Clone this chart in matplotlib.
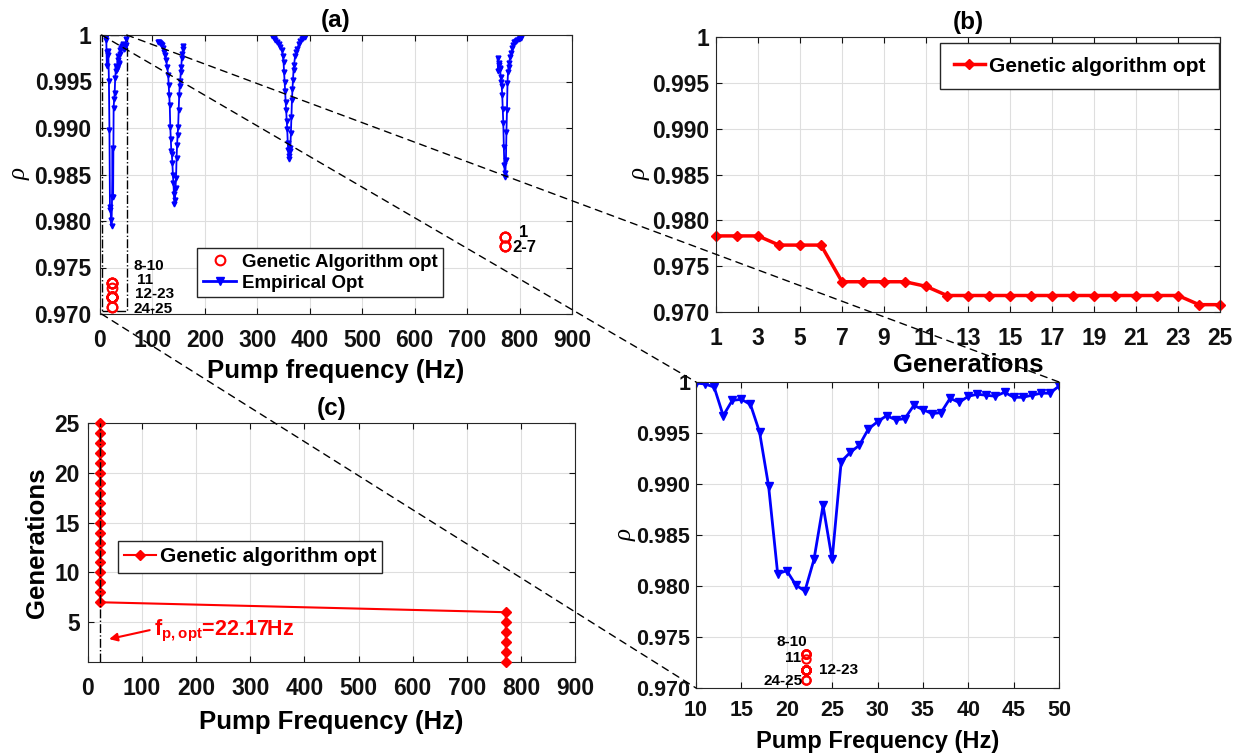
import matplotlib
matplotlib.use('Agg')
import matplotlib.pyplot as plt
from matplotlib.patches import Rectangle, ConnectionPatch
from matplotlib.lines import Line2D

plt.rcParams['font.family'] = ['Liberation Sans', 'DejaVu Sans']
plt.rcParams['font.weight'] = 'bold'
plt.rcParams['axes.labelweight'] = 'bold'
plt.rcParams['axes.titleweight'] = 'bold'
plt.rcParams['mathtext.fontset'] = 'custom'
plt.rcParams['mathtext.rm'] = 'Liberation Sans:bold'
plt.rcParams['mathtext.bf'] = 'Liberation Sans:bold'

# -------------------------------
# Data
# -------------------------------
# empirical sweep, first dip (also shown in the zoom panel)
freq_1 = [10, 11, 12, 13, 14, 15, 16, 17, 18, 19, 20, 21, 22, 23, 24, 25, 26, 27, 28, 29,
          30, 31, 32, 33, 34, 35, 36, 37, 38, 39, 40, 41, 42, 43, 44, 45, 46, 47, 48, 49, 50]
rho_1 = [0.9999, 0.9998, 0.9995, 0.9967, 0.9982, 0.9983, 0.9978, 0.9951, 0.9898, 0.9812,
         0.9815, 0.9801, 0.9795, 0.9826, 0.9879, 0.9826, 0.9922, 0.9931, 0.9938, 0.9954,
         0.9961, 0.9967, 0.9963, 0.9964, 0.9977, 0.9973, 0.9969, 0.9970, 0.9984, 0.9980,
         0.9986, 0.9988, 0.9987, 0.9986, 0.9990, 0.9985, 0.9985, 0.9987, 0.9989, 0.9989,
         0.9996]

# second dip
freq_2 = [110, 112, 114, 116, 118, 120, 122, 124, 126, 128, 130, 131, 132, 133, 134, 135,
          136, 137, 138, 139, 140, 141, 142, 143, 144, 145, 146, 147, 148, 149, 150, 151,
          152, 153, 154, 155, 156, 157, 158, 159]
rho_2 = [0.9993, 0.9992, 0.9991, 0.9990, 0.9989, 0.9986, 0.9982, 0.9978, 0.9973, 0.9966,
         0.9957, 0.9946, 0.9935, 0.9925, 0.9901, 0.9888, 0.9875, 0.9872, 0.9862, 0.9850,
         0.9841, 0.9829, 0.9818, 0.9823, 0.9836, 0.9846, 0.9868, 0.9882, 0.9893, 0.9901,
         0.9919, 0.9935, 0.9945, 0.9951, 0.9960, 0.9966, 0.9975, 0.9980, 0.9985, 0.9988]

# third dip
freq_3 = [328, 331, 334, 338, 341, 344, 347, 349, 350, 351, 352, 353, 354, 355, 356, 357,
          358, 359, 360, 361, 362, 363, 364, 365, 366, 367, 368, 369, 370, 372, 374, 376,
          379, 382, 385, 388, 390]
rho_3 = [0.9999, 0.9997, 0.9995, 0.9993, 0.9990, 0.9987, 0.9984, 0.9977, 0.9971, 0.9960,
         0.9950, 0.9940, 0.9928, 0.9919, 0.9908, 0.9899, 0.9884, 0.9876, 0.9867, 0.9870,
         0.9875, 0.9879, 0.9895, 0.9912, 0.9930, 0.9942, 0.9952, 0.9962, 0.9968, 0.9977,
         0.9982, 0.9985, 0.9990, 0.9994, 0.9996, 0.9997, 0.9998]

# fourth dip
freq_4 = [758, 759, 760, 761, 762, 763, 764, 765, 766, 767, 768, 769, 770, 771, 772, 773,
          774, 775, 776, 777, 778, 779, 780, 782, 784, 786, 788, 790, 792, 794, 796, 798,
          800, 802]
rho_4 = [0.9975, 0.9961, 0.9970, 0.9968, 0.9964, 0.9963, 0.9955, 0.9950, 0.9945, 0.9935,
         0.9920, 0.9905, 0.9880, 0.9860, 0.9847, 0.9852, 0.9866, 0.9896, 0.9919, 0.9948,
         0.9960, 0.9966, 0.9970, 0.9976, 0.9981, 0.9986, 0.9989, 0.9992, 0.9993, 0.9994,
         0.9995, 0.9996, 0.9997, 0.9997]

# genetic algorithm, best individual per generation
generations = [1, 2, 3, 4, 5, 6, 7, 8, 9, 10, 11, 12, 13, 14, 15, 16, 17, 18, 19, 20,
               21, 22, 23, 24, 25]
ga_freq = [772, 772, 772, 772, 772, 772, 22.17, 22.17, 22.17, 22.17, 22.17, 22.17, 22.17,
           22.17, 22.17, 22.17, 22.17, 22.17, 22.17, 22.17, 22.17, 22.17, 22.17, 22.17, 22.17]
ga_rho = [0.9783, 0.9783, 0.9783, 0.9773, 0.9773, 0.9773, 0.9733, 0.9733, 0.9733, 0.9733,
          0.9728, 0.9718, 0.9718, 0.9718, 0.9718, 0.9718, 0.9718, 0.9718, 0.9718, 0.9718,
          0.9718, 0.9718, 0.9718, 0.9708, 0.9708]
f_opt = 22.17

rho_ticks = [0.970, 0.975, 0.980, 0.985, 0.990, 0.995, 1.0]
rho_ticklabels = ['0.970', '0.975', '0.980', '0.985', '0.990', '0.995', '1']
freq_ticks = [0, 100, 200, 300, 400, 500, 600, 700, 800, 900]
gen_ticks_b = [1, 3, 5, 7, 9, 11, 13, 15, 17, 19, 21, 23, 25]
gen_ticks_c = [5, 10, 15, 20, 25]
zoom_ticks = [10, 15, 20, 25, 30, 35, 40, 45, 50]

# -------------------------------
# Figure
# -------------------------------
W, H = 1252, 756
fig = plt.figure(figsize=(W / 100, H / 100), dpi=100)


def box(x0, y0, x1, y1):
    # pixel box (top-left origin) -> figure fraction
    return [x0 / W, 1 - y1 / H, (x1 - x0) / W, (y1 - y0) / H]


def style(ax, size=16.5, xpad=11, ypad=6):
    ax.grid(True, color='#dedede', lw=0.8)
    ax.set_axisbelow(True)
    ax.tick_params(direction='in', top=True, right=True, length=4, width=0.8,
                   labelsize=size, colors='#111111')
    ax.tick_params(axis='x', pad=xpad)
    ax.tick_params(axis='y', pad=ypad)
    for s in ax.spines.values():
        s.set_color('#262626')
        s.set_linewidth(0.8)


rho_font = dict(family='Liberation Serif', style='italic', weight='normal', fontsize=18)

ax_a = fig.add_axes(box(100, 35, 572, 314))
ax_b = fig.add_axes(box(716, 37, 1220, 312))
ax_c = fig.add_axes(box(88, 423, 575, 662))
ax_d = fig.add_axes(box(696, 382, 1059, 688))

# ---- (a) ----
style(ax_a)
for f, r in [(freq_1, rho_1), (freq_2, rho_2), (freq_3, rho_3), (freq_4, rho_4)]:
    ax_a.plot(f, r, color='b', lw=1.3, marker='v', ms=3.5)
ax_a.plot(ga_freq, ga_rho, ls='none', marker='o', ms=7, mfc='none', mec='r', mew=1.5)
ax_a.add_patch(Rectangle((3, 0.9703), 48, 0.0297, fill=False, ls='-.', lw=1, ec='k'))
ax_a.text(64, 0.9752, '8-10', fontsize=11, va='center')
ax_a.text(70, 0.9737, '11', fontsize=11, va='center')
ax_a.text(67, 0.9721, '12-23', fontsize=11, va='center')
ax_a.text(64, 0.9705, '24-25', fontsize=11, va='center')
ax_a.text(799, 0.9788, '1', fontsize=12, va='center')
ax_a.text(787, 0.9771, '2-7', fontsize=12, va='center')
ax_a.set_xlim(0, 900)
ax_a.set_ylim(0.970, 1.0)
ax_a.set_xticks(freq_ticks)
ax_a.set_yticks(rho_ticks)
ax_a.set_yticklabels(rho_ticklabels)
ax_a.set_xlabel('Pump frequency (Hz)', fontsize=18.5, labelpad=5)
ax_a.set_ylabel('ρ', labelpad=3, **rho_font)
ax_a.set_title('(a)', fontsize=17.5, pad=6)
h_ga = Line2D([], [], ls='none', marker='o', ms=7, mfc='none', mec='r', mew=1.5)
h_emp = Line2D([], [], color='b', lw=2, marker='v', ms=6)
ax_a.legend([h_ga, h_emp], ['Genetic Algorithm opt', 'Empirical Opt'],
            loc='upper left', bbox_to_anchor=(197 / W, 1 - 248 / H),
            bbox_transform=fig.transFigure, prop={'size': 13.5, 'weight': 'bold'},
            fancybox=False, framealpha=1, edgecolor='#262626', handlelength=1.8,
            borderpad=0.3, labelspacing=0.2, handletextpad=0.3, borderaxespad=0)

# ---- (b) ----
style(ax_b, ypad=5)
ax_b.plot(generations, ga_rho, color='r', lw=2.5, marker='D', ms=5,
          label='Genetic algorithm opt', clip_on=False)
ax_b.set_xlim(1, 25)
ax_b.set_ylim(0.970, 1.0)
ax_b.set_xticks(gen_ticks_b)
ax_b.set_yticks(rho_ticks)
ax_b.set_yticklabels(rho_ticklabels)
ax_b.set_xlabel('Generations', fontsize=18.5, labelpad=2)
ax_b.set_ylabel('ρ', labelpad=1, **rho_font)
ax_b.set_title('(b)', fontsize=17.5, pad=6)
ax_b.legend(loc='upper left', bbox_to_anchor=(940 / W, 1 - 43 / H),
            bbox_transform=fig.transFigure, prop={'size': 15, 'weight': 'bold'},
            fancybox=False, framealpha=1, edgecolor='#262626', handlelength=1.5,
            borderpad=0.65, handletextpad=0.2, borderaxespad=0)

# ---- (c) ----
style(ax_c)
ax_c.plot(ga_freq, generations, color='r', lw=1.5, marker='D', ms=5,
          label='Genetic algorithm opt', clip_on=False, zorder=3)
ax_c.plot([f_opt, f_opt], [1, 25], color='k', ls='-.', lw=1, zorder=4)
ax_c.annotate('', xy=(39, 3.3), xytext=(114, 4.2),
              arrowprops=dict(arrowstyle='-|>', color='r', lw=1.5, mutation_scale=12,
                              shrinkA=0, shrinkB=0))
ax_c.text(122, 3.7, r'f$_{\mathrm{p,opt}}$=22.17Hz', color='r', fontsize=15.5,
          va='baseline')
ax_c.set_xlim(0, 900)
ax_c.set_ylim(1, 25)
ax_c.set_xticks(freq_ticks)
ax_c.set_yticks(gen_ticks_c)
ax_c.set_xlabel('Pump Frequency (Hz)', fontsize=18.5, labelpad=7)
ax_c.set_ylabel('Generations', fontsize=18.5, labelpad=4)
ax_c.set_title('(c)', fontsize=17.5, pad=6)
ax_c.legend(loc='upper left', bbox_to_anchor=(118 / W, 1 - 541 / H),
            bbox_transform=fig.transFigure, prop={'size': 15, 'weight': 'bold'},
            fancybox=False, framealpha=1, edgecolor='#262626', handlelength=1.5,
            borderpad=0.3, handletextpad=0.2, borderaxespad=0)

# ---- zoom panel ----
style(ax_d, size=15.5, xpad=9, ypad=4)
ax_d.plot(freq_1, rho_1, color='b', lw=2, marker='v', ms=6)
ax_d.plot(ga_freq, ga_rho, ls='none', marker='o', ms=6, mfc='none', mec='r', mew=1.5)
ax_d.text(22.2, 0.9745, '8-10', fontsize=11, ha='right', va='center')
ax_d.text(21.6, 0.9729, '11', fontsize=11, ha='right', va='center')
ax_d.text(23.5, 0.9718, '12-23', fontsize=11, ha='left', va='center')
ax_d.text(21.8, 0.9707, '24-25', fontsize=11, ha='right', va='center')
ax_d.set_xlim(10, 50)
ax_d.set_ylim(0.970, 1.0)
ax_d.set_xticks(zoom_ticks)
ax_d.set_yticks(rho_ticks)
ax_d.set_yticklabels(rho_ticklabels)
ax_d.set_xlabel('Pump Frequency (Hz)', fontsize=17, labelpad=6)
ax_d.set_ylabel('ρ', labelpad=0, **rho_font)

# zoom guide lines from (a) to the zoom panel
for pa, pd in [((51, 1.0), (50, 1.0)), ((3, 1.0), (10, 1.0)), ((3, 0.970), (10, 0.970))]:
    con = ConnectionPatch(xyA=pa, coordsA=ax_a.transData, xyB=pd, coordsB=ax_d.transData,
                          color='k', lw=1, linestyle=(0, (5, 4)))
    fig.add_artist(con)

plt.savefig('out.png', dpi=100)
